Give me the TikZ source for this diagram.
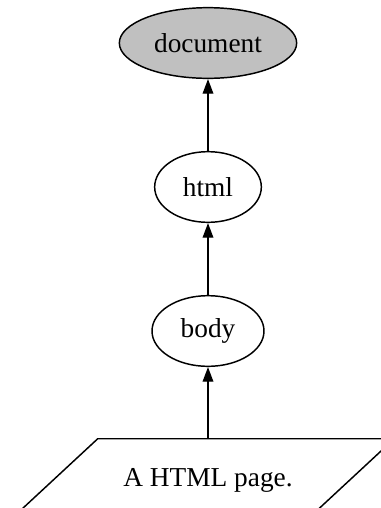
\documentclass[tikz,border=0pt]{standalone}
\usepackage{fontspec}
\setmainfont{Liberation Serif}
\usetikzlibrary{arrows.meta,shapes.geometric}
\definecolor{docgray}{RGB}{192,192,192}
\tikzset{
  elem/.style={ellipse, draw, line width=1.1pt, inner sep=0pt, minimum height=53pt,
    font=\fontsize{20.5}{24}\selectfont},
  pagebox/.style={inner sep=0pt, minimum width=165pt, minimum height=52.5pt,
    text height=18pt, text depth=0pt, font=\fontsize{20.5}{24}\selectfont},
  link/.style={line width=1.1pt, -{Triangle[length=11pt,width=8pt]}}
}
\begin{document}
\begin{tikzpicture}[x=0.75pt, y=-0.75pt]
\useasboundingbox (0,0) rectangle (381,508);
\clip (0,0) rectangle (381,508);

\node[elem, fill=docgray, minimum width=133pt] (document) at (208,43) {document};
\node[elem, minimum width=80pt] (html) at (208,187) {html};
\node[elem, minimum width=84pt] (body) at (208,331) {body};
\node[pagebox] (page) at (208,474) {A HTML page.};
\draw[line width=1.1pt] (page.north west) -- ([xshift=57pt]page.north east)
  -- (page.south east) -- ([xshift=-57pt]page.south west) -- cycle; % parallelogram

\draw[link] (html) -- (document);
\draw[link] (body) -- (html);
\draw[link] (page) -- (body);
\end{tikzpicture}
\end{document}
